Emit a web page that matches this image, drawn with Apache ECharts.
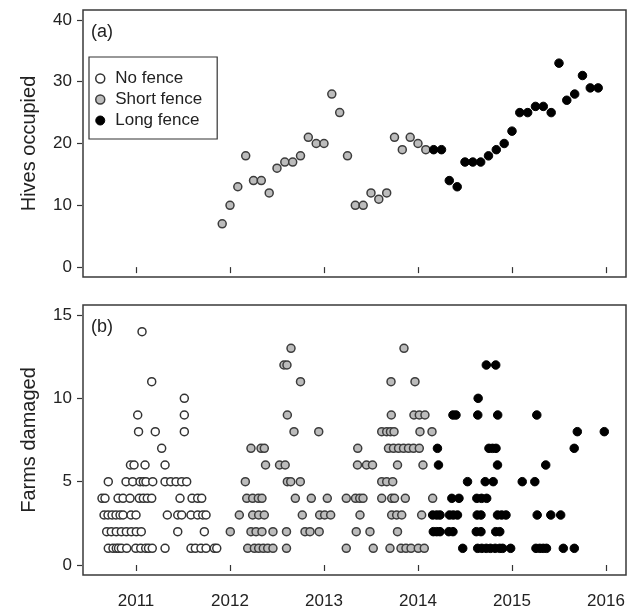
<!DOCTYPE html>
<html>
<head>
<meta charset="utf-8">
<script src="https://cdn.jsdelivr.net/npm/echarts@6/dist/echarts.min.js"></script>
<style>html,body{margin:0;padding:0;background:#fff;}#c{width:634px;height:612px;}</style>
</head>
<body>
<div id="c"></div>
<script>
// ---- Data (decimal years) ----
const yearTicks = [2011, 2012, 2013, 2014, 2015, 2016];
const hivesTicks = [0, 10, 20, 30, 40];
const farmsTicks = [0, 5, 10, 15];

const hivesShortDate = [2011.917, 2012.000, 2012.083, 2012.167, 2012.250, 2012.333, 2012.417, 2012.500, 2012.583, 2012.667, 2012.750, 2012.833, 2012.917, 2013.000, 2013.083, 2013.167, 2013.250, 2013.333, 2013.417, 2013.500, 2013.583, 2013.667, 2013.750, 2013.833, 2013.917, 2014.000, 2014.083];
const hivesShortCount = [7, 10, 13, 18, 14, 14, 12, 16, 17, 17, 18, 21, 20, 20, 28, 25, 18, 10, 10, 12, 11, 12, 21, 19, 21, 20, 19];
const hivesLongDate = [2014.167, 2014.250, 2014.333, 2014.417, 2014.500, 2014.583, 2014.667, 2014.750, 2014.833, 2014.917, 2015.000, 2015.083, 2015.167, 2015.250, 2015.333, 2015.417, 2015.500, 2015.583, 2015.667, 2015.750, 2015.833, 2015.917];
const hivesLongCount = [19, 19, 14, 13, 17, 17, 17, 18, 19, 20, 22, 25, 25, 26, 26, 25, 33, 27, 28, 31, 29, 29];

const farmsNoFenceDate = [
  2011.064,
  2011.167,
  2011.514,
  2011.018, 2011.514,
  2011.027, 2011.205, 2011.514,
  2011.273,
  2010.941, 2010.979, 2011.096, 2011.309,
  2010.705, 2010.894, 2010.965, 2011.043, 2011.078, 2011.106, 2011.178, 2011.309, 2011.369, 2011.426, 2011.486, 2011.539,
  2010.638, 2010.670, 2010.809, 2010.862, 2010.936, 2011.035, 2011.078, 2011.120, 2011.167, 2011.468, 2011.596, 2011.656, 2011.699,
  2010.660, 2010.702, 2010.745, 2010.787, 2010.830, 2010.862, 2010.947, 2011.000, 2011.333, 2011.444, 2011.486, 2011.585, 2011.656, 2011.710, 2011.745,
  2010.688, 2010.737, 2010.790, 2010.844, 2010.897, 2010.950, 2011.003, 2011.056, 2011.444, 2011.727,
  2010.705, 2010.755, 2010.790, 2010.814, 2010.844, 2010.901, 2010.997, 2011.050, 2011.103, 2011.133, 2011.173, 2011.309, 2011.585, 2011.631, 2011.691, 2011.745, 2011.833, 2011.859
];
const farmsNoFenceCount = [
  14,
  11,
  10,
  9, 9,
  8, 8, 8,
  7,
  6, 6, 6, 6,
  5, 5, 5, 5, 5, 5, 5, 5, 5, 5, 5, 5,
  4, 4, 4, 4, 4, 4, 4, 4, 4, 4, 4, 4, 4,
  3, 3, 3, 3, 3, 3, 3, 3, 3, 3, 3, 3, 3, 3, 3,
  2, 2, 2, 2, 2, 2, 2, 2, 2, 2,
  1, 1, 1, 1, 1, 1, 1, 1, 1, 1, 1, 1, 1, 1, 1, 1, 1, 1
];

const farmsShortDate = [
  2012.649, 2013.851,
  2012.574, 2012.606,
  2012.750, 2013.713, 2013.968,
  2012.610, 2013.716, 2013.957, 2014.014, 2014.074,
  2012.681, 2012.944, 2013.614, 2013.667, 2013.707, 2013.745, 2014.021, 2014.149,
  2012.223, 2012.330, 2012.365, 2013.359, 2013.686, 2013.739, 2013.793, 2013.846, 2013.899, 2013.952, 2014.014,
  2012.378, 2012.527, 2012.587, 2013.356, 2013.452, 2013.516, 2013.782, 2014.053,
  2012.163, 2012.610, 2012.646, 2012.748, 2013.614, 2013.667, 2013.731,
  2012.178, 2012.241, 2012.301, 2012.340, 2012.695, 2012.865, 2013.035, 2013.237, 2013.335, 2013.380, 2013.415, 2013.614, 2013.720, 2013.750, 2013.865, 2014.156,
  2012.099, 2012.241, 2012.305, 2012.365, 2012.769, 2012.954, 2013.007, 2013.071, 2013.383, 2013.720, 2013.773, 2013.827, 2014.039,
  2012.003, 2012.223, 2012.277, 2012.340, 2012.457, 2012.601, 2012.798, 2012.851, 2012.949, 2013.343, 2013.489, 2013.782,
  2012.188, 2012.259, 2012.305, 2012.354, 2012.401, 2012.457, 2012.601, 2013.237, 2013.524, 2013.702, 2013.819, 2013.872, 2013.926, 2014.003, 2014.067
];
const farmsShortCount = [
  13, 13,
  12, 12,
  11, 11, 11,
  9, 9, 9, 9, 9,
  8, 8, 8, 8, 8, 8, 8, 8,
  7, 7, 7, 7, 7, 7, 7, 7, 7, 7, 7,
  6, 6, 6, 6, 6, 6, 6, 6,
  5, 5, 5, 5, 5, 5, 5,
  4, 4, 4, 4, 4, 4, 4, 4, 4, 4, 4, 4, 4, 4, 4, 4,
  3, 3, 3, 3, 3, 3, 3, 3, 3, 3, 3, 3, 3,
  2, 2, 2, 2, 2, 2, 2, 2, 2, 2, 2, 2,
  1, 1, 1, 1, 1, 1, 1, 1, 1, 1, 1, 1, 1, 1, 1
];

const farmsLongDate = [
  2014.727, 2014.827,
  2014.640,
  2014.372, 2014.404, 2014.636, 2014.848, 2015.264,
  2015.695, 2015.982,
  2014.207, 2014.755, 2014.793, 2014.830, 2015.662,
  2014.218, 2014.846, 2015.359,
  2014.527, 2014.715, 2014.800, 2015.109, 2015.243,
  2014.360, 2014.436, 2014.626, 2014.676, 2014.731,
  2014.156, 2014.199, 2014.234, 2014.335, 2014.376, 2014.420, 2014.630, 2014.670, 2014.846, 2014.890, 2014.936, 2015.268, 2015.413, 2015.518,
  2014.163, 2014.200, 2014.234, 2014.328, 2014.372, 2014.620, 2014.670, 2014.827, 2014.870,
  2014.476, 2014.635, 2014.679, 2014.726, 2014.771, 2014.821, 2014.870, 2014.901, 2014.986, 2015.255, 2015.296, 2015.332, 2015.367, 2015.546, 2015.663
];
const farmsLongCount = [
  12, 12,
  10,
  9, 9, 9, 9, 9,
  8, 8,
  7, 7, 7, 7, 7,
  6, 6, 6,
  5, 5, 5, 5, 5,
  4, 4, 4, 4, 4,
  3, 3, 3, 3, 3, 3, 3, 3, 3, 3, 3, 3, 3, 3,
  2, 2, 2, 2, 2, 2, 2, 2, 2,
  1, 1, 1, 1, 1, 1, 1, 1, 1, 1, 1, 1, 1, 1, 1
];

// ---- Chart ----
const zip = (xs, ys) => xs.map((x, i) => [x, ys[i]]);
const FONT = "'Liberation Sans', Arial, sans-serif";
const INK = '#222';
const styleNo = { color: '#ffffff', borderColor: '#333333', borderWidth: 1.5, opacity: 1 };
const styleShort = { color: '#bcbcbc', borderColor: '#3c3c3c', borderWidth: 1.5, opacity: 1 };
const styleLong = { color: '#000000', borderColor: '#000000', borderWidth: 1, opacity: 1 };

function xAxis(gridIndex, showLabels) {
  return {
    type: 'value', gridIndex: gridIndex, min: 2010.436, max: 2016.213, offset: 3,
    axisLine: { show: false },
    splitLine: { show: false },
    axisTick: { show: true, customValues: yearTicks, length: 6, lineStyle: { color: '#333', width: 1.2 } },
    axisLabel: { show: showLabels, customValues: yearTicks, margin: 15, fontSize: 17, color: INK, fontFamily: FONT, formatter: v => String(v) }
  };
}
function yAxis(gridIndex, min, max, ticks, name) {
  return {
    type: 'value', gridIndex: gridIndex, min: min, max: max, offset: 1,
    name: name, nameLocation: 'middle', nameGap: 43,
    nameTextStyle: { fontSize: 20, color: INK, fontFamily: FONT },
    axisLine: { show: false },
    splitLine: { show: false },
    axisTick: { show: true, customValues: ticks, length: 5, lineStyle: { color: '#333', width: 1.2 } },
    axisLabel: { customValues: ticks, margin: 10, fontSize: 17, color: INK, fontFamily: FONT, formatter: v => String(v) }
  };
}

const chart = echarts.init(document.getElementById('c'), null, { renderer: 'canvas' });
chart.setOption({
  animation: false,
  backgroundColor: '#ffffff',
  grid: [
    { left: 83, top: 10, width: 543, height: 267, show: true, borderColor: '#3a3a3a', borderWidth: 1.5, backgroundColor: 'transparent' },
    { left: 83, top: 305, width: 543, height: 270, show: true, borderColor: '#3a3a3a', borderWidth: 1.5, backgroundColor: 'transparent' }
  ],
  xAxis: [xAxis(0, false), xAxis(1, true)],
  yAxis: [
    yAxis(0, -1.6, 41.6, hivesTicks, 'Hives occupied'),
    yAxis(1, -0.6, 15.6, farmsTicks, 'Farms damaged')
  ],
  legend: {
    left: 89, top: 57, orient: 'vertical', selectedMode: false,
    borderColor: '#333', borderWidth: 1.2, padding: [13, 15, 10, 6],
    itemWidth: 20, itemHeight: 9, itemGap: 4, icon: 'circle',
    textStyle: { fontSize: 17, lineHeight: 17, color: INK, fontFamily: FONT },
    data: [
      { name: 'No fence', itemStyle: styleNo },
      { name: 'Short fence', itemStyle: styleShort },
      { name: 'Long fence', itemStyle: styleLong }
    ]
  },
  graphic: [
    { type: 'text', left: 91, top: 23, style: { text: '(a)', fontSize: 18, fill: INK, fontFamily: FONT } },
    { type: 'text', left: 91, top: 318, style: { text: '(b)', fontSize: 18, fill: INK, fontFamily: FONT } }
  ],
  series: [
    { name: 'Short fence', type: 'scatter', xAxisIndex: 0, yAxisIndex: 0, symbolSize: 8, itemStyle: styleShort, data: zip(hivesShortDate, hivesShortCount) },
    { name: 'Long fence', type: 'scatter', xAxisIndex: 0, yAxisIndex: 0, symbolSize: 8.5, itemStyle: styleLong, data: zip(hivesLongDate, hivesLongCount) },
    { name: 'No fence', type: 'scatter', xAxisIndex: 1, yAxisIndex: 1, symbolSize: 8, itemStyle: styleNo, data: zip(farmsNoFenceDate, farmsNoFenceCount) },
    { name: 'Short fence', type: 'scatter', xAxisIndex: 1, yAxisIndex: 1, symbolSize: 8, itemStyle: styleShort, data: zip(farmsShortDate, farmsShortCount) },
    { name: 'Long fence', type: 'scatter', xAxisIndex: 1, yAxisIndex: 1, symbolSize: 8.5, itemStyle: styleLong, data: zip(farmsLongDate, farmsLongCount) }
  ]
});
</script>
</body>
</html>
